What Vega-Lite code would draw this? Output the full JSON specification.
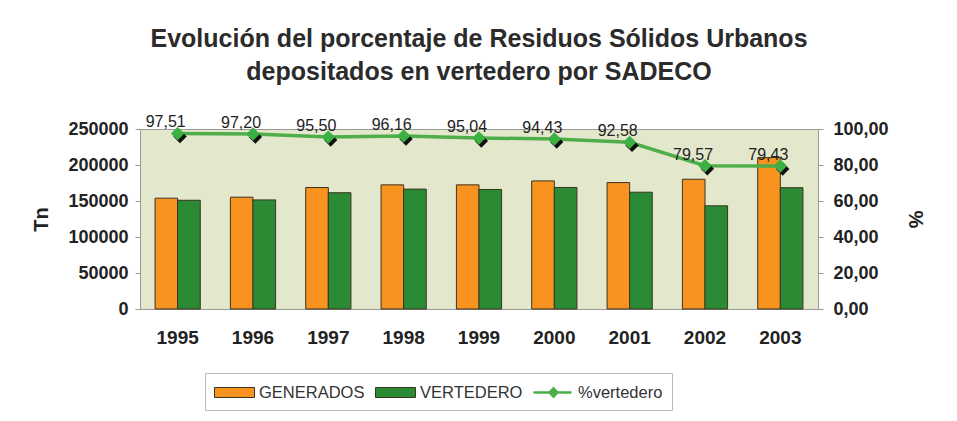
{
  "$schema": "https://vega.github.io/schema/vega-lite/v6.json",
  "autosize": "none",
  "width": 678,
  "height": 180,
  "padding": {"left": 140, "top": 129, "right": 139, "bottom": 112},
  "background": "white",
  "title": {
    "text": ["Evolución del porcentaje de Residuos Sólidos Urbanos", "depositados en vertedero por SADECO"],
    "font": "Liberation Sans",
    "fontSize": 25,
    "fontWeight": "bold",
    "color": "#2b2b2b",
    "lineHeight": 33,
    "anchor": "middle",
    "frame": "group",
    "offset": 29
  },
  "data": {
    "values": [
      {"year": "1995", "GENERADOS": 153900, "VERTEDERO": 151000, "pct": 97.51},
      {"year": "1996", "GENERADOS": 155300, "VERTEDERO": 151500, "pct": 97.20},
      {"year": "1997", "GENERADOS": 168700, "VERTEDERO": 161500, "pct": 95.50},
      {"year": "1998", "GENERADOS": 172400, "VERTEDERO": 166500, "pct": 96.16},
      {"year": "1999", "GENERADOS": 172400, "VERTEDERO": 166000, "pct": 95.04},
      {"year": "2000", "GENERADOS": 177900, "VERTEDERO": 168800, "pct": 94.43},
      {"year": "2001", "GENERADOS": 175600, "VERTEDERO": 162200, "pct": 92.58},
      {"year": "2002", "GENERADOS": 180200, "VERTEDERO": 143300, "pct": 79.57},
      {"year": "2003", "GENERADOS": 210300, "VERTEDERO": 168500, "pct": 79.43}
    ]
  },
  "encoding": {
    "x": {
      "field": "year", "type": "nominal",
      "scale": {"paddingInner": 0.4, "paddingOuter": 0.2},
      "axis": {
        "title": null, "labelAngle": 0, "labelFont": "Liberation Sans", "labelFontSize": 19,
        "labelFontWeight": "bold", "labelColor": "#222", "labelPadding": 19, "ticks": false,
        "domainColor": "#999"
      }
    }
  },
  "layer": [
    {
      "transform": [{"fold": ["GENERADOS", "VERTEDERO"], "as": ["serie", "tn"]}],
      "mark": {"type": "bar", "stroke": "#3a3320", "strokeWidth": 1},
      "encoding": {
        "xOffset": {"field": "serie", "type": "nominal", "sort": ["GENERADOS", "VERTEDERO"]},
        "y": {
          "field": "tn", "type": "quantitative",
          "scale": {"domain": [0, 250000], "nice": false},
          "axis": {
            "title": "Tn", "format": "d", "values": [0, 50000, 100000, 150000, 200000, 250000],
            "labelFont": "Liberation Sans", "labelFontSize": 18, "labelFontWeight": "bold", "labelColor": "#222",
            "titleFont": "Liberation Sans", "titleFontSize": 20, "titleFontWeight": "bold", "titleColor": "#222",
            "titlePadding": 16, "tickColor": "#999", "tickSize": 5, "labelPadding": 7, "domainColor": "#999",
            "grid": false
          }
        },
        "color": {
          "field": "serie", "type": "nominal",
          "scale": {"domain": ["GENERADOS", "VERTEDERO", "%vertedero"], "range": ["#f7931e", "#2b8a34", "#4fae4a"]},
          "legend": {
            "orient": "none", "legendX": 65, "legendY": 244, "direction": "horizontal", "title": null,
            "strokeColor": "#bbb", "fillColor": "white", "padding": 9,
            "symbolSize": 400, "labelOffset": 24, "columnPadding": 8,
            "symbolType": {"expr": "datum.value == '%vertedero' ? 'M-1,-0.12H0.55L1,-0.6L1.45,-0.12H2.8V0.12H1.45L1,0.6L0.55,0.12H-1Z' : 'M-1,-0.5H3V0.5H-1Z'"},
            "symbolStrokeColor": {"expr": "datum.value == '%vertedero' ? 'transparent' : '#3a3320'"},
            "symbolStrokeWidth": 1,
            "symbolOpacity": 1,
            "labelFont": "Liberation Sans", "labelFontSize": 16.5, "labelColor": "#333", "labelLimit": 300
          }
        }
      }
    },
    {
      "mark": {"type": "line", "strokeWidth": 3.5, "color": "#4fae4a"},
      "encoding": {
        "y": {
          "field": "pct", "type": "quantitative",
          "scale": {"domain": [0, 100], "nice": false},
          "axis": {
            "orient": "right", "title": "%", "format": ".2f", "values": [0, 20, 40, 60, 80, 100],
            "labelFont": "Liberation Sans", "labelFontSize": 18, "labelFontWeight": "bold", "labelColor": "#222",
            "titleFont": "Liberation Sans", "titleFontSize": 20, "titleFontWeight": "bold", "titleColor": "#222",
            "titlePadding": 16, "tickColor": "#999", "tickSize": 5, "labelPadding": 10, "domainColor": "#999",
            "grid": false
          }
        }
      }
    },
    {
      "mark": {"type": "point", "filled": true, "opacity": 1, "color": "#111", "shape": "M0.35,-0.55L1.35,0.45L0.35,1.45L-0.65,0.45Z", "size": 180},
      "encoding": {"y": {"field": "pct", "type": "quantitative", "scale": {"domain": [0, 100], "nice": false}, "axis": null}}
    },
    {
      "mark": {"type": "point", "filled": true, "opacity": 1, "color": "#3cb043", "shape": "diamond", "size": 180},
      "encoding": {"y": {"field": "pct", "type": "quantitative", "scale": {"domain": [0, 100], "nice": false}, "axis": null}}
    },
    {
      "mark": {"type": "text", "dy": -11, "dx": -12, "font": "Liberation Sans", "fontSize": 16, "color": "#222", "baseline": "middle"},
      "encoding": {
        "y": {"field": "pct", "type": "quantitative", "scale": {"domain": [0, 100], "nice": false}, "axis": null},
        "text": {"field": "pct", "type": "quantitative", "format": ".2f"}
      }
    }
  ],
  "resolve": {"scale": {"y": "independent"}},
  "config": {
    "locale": {"number": {"decimal": ",", "thousands": ".", "grouping": [3], "currency": ["", " €"]}},
    "view": {"fill": "#e3e8cc", "stroke": "#999"}
  }
}
